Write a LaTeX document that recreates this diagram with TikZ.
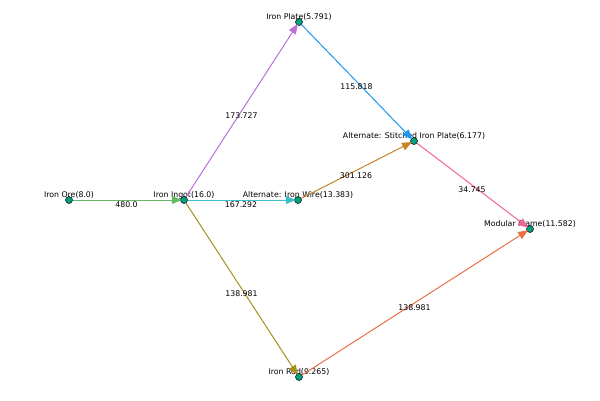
\documentclass[tikz,border=0pt]{standalone}
\usepackage{fontspec}
\setmainfont{DejaVu Sans}
\usetikzlibrary{arrows.meta}

\definecolor{nodeteal}{RGB}{0,160,128}
\definecolor{oreflow}{RGB}{100,185,100}
\definecolor{wireflow}{RGB}{64,190,200}
\definecolor{plateflow}{RGB}{190,110,220}
\definecolor{rodflow}{RGB}{165,145,30}
\definecolor{stitchflow}{RGB}{30,150,240}
\definecolor{wirestitch}{RGB}{200,130,40}
\definecolor{frameflow}{RGB}{240,100,150}
\definecolor{rodframe}{RGB}{235,110,70}

\tikzset{
    item/.style = {circle,draw=black,fill=nodeteal,inner sep=0pt,minimum size=7pt,line width=0.5pt},
    caption/.style = {font=\fontsize{7.8}{9}\selectfont,inner sep=0pt},
    flow/.style = {-{Triangle[length=10pt,width=8pt]},line width=1pt,shorten >=-1.5pt},
    amount/.style = {font=\fontsize{7.8}{9}\selectfont,inner sep=0pt,midway,yshift=-5pt}
}

\begin{document}
\begin{tikzpicture}[x=1pt,y=-1pt]
    \useasboundingbox (0,0) rectangle (600,400);

    % item names, under the flows
    \node[caption] at (69,195) {Iron Ore(8.0)};
    \node[caption] at (184,195) {Iron Ingot(16.0)};
    \node[caption] at (299,17) {Iron Plate(5.791)};
    \node[caption] at (298,195) {Alternate: Iron Wire(13.383)};
    \node[caption] at (414,136) {Alternate: Stitched Iron Plate(6.177)};
    \node[caption] at (530,224) {Modular Frame(11.582)};
    \node[caption] at (299,372) {Iron Rod(9.265)};

    % items
    \node[item] (ore) at (69,200) {};
    \node[item] (ingot) at (184,200) {};
    \node[item] (plate) at (299,22) {};
    \node[item] (wire) at (298,200) {};
    \node[item] (stitched) at (414,141) {};
    \node[item] (frame) at (530,229) {};
    \node[item] (rod) at (299,377) {};

    % flows
    \draw[flow,oreflow] (ore) -- (ingot) node[amount,black] {480.0};
    \draw[flow,wireflow] (ingot) -- (wire) node[amount,black] {167.292};
    \draw[flow,plateflow] (ingot) -- (plate) node[amount,black] {173.727};
    \draw[flow,rodflow] (ingot) -- (rod) node[amount,black] {138.981};
    \draw[flow,stitchflow] (plate) -- (stitched) node[amount,black] {115.818};
    \draw[flow,wirestitch] (wire) -- (stitched) node[amount,black] {301.126};
    \draw[flow,frameflow] (stitched) -- (frame) node[amount,black] {34.745};
    \draw[flow,rodframe] (rod) -- (frame) node[amount,black] {138.981};
\end{tikzpicture}
\end{document}
